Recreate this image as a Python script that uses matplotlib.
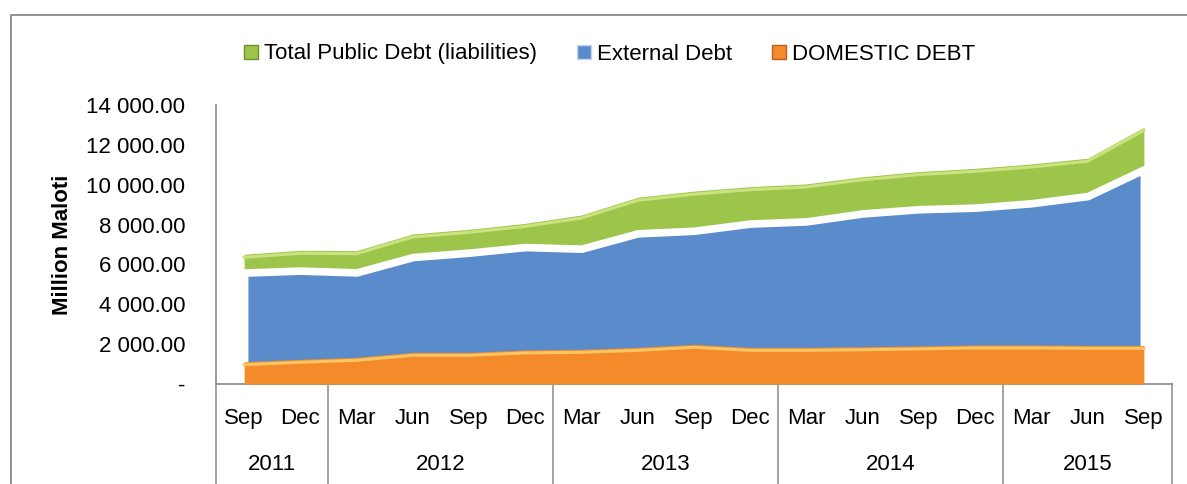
import numpy as np
import matplotlib.pyplot as plt
from matplotlib.patches import Patch, Rectangle
from matplotlib.transforms import blended_transform_factory, offset_copy

plt.rcParams['font.family'] = ['Liberation Sans', 'DejaVu Sans']

# quarters Sep 2011 .. Sep 2015
periods = ['Sep', 'Dec', 'Mar', 'Jun', 'Sep', 'Dec', 'Mar', 'Jun', 'Sep',
           'Dec', 'Mar', 'Jun', 'Sep', 'Dec', 'Mar', 'Jun', 'Sep']
years = ['2011', '2012', '2013', '2014', '2015']
year_counts = [2, 4, 4, 4, 3]

# million maloti
total = [6510, 6710, 6690, 7530, 7760, 8060, 8480, 9370, 9680,
         9900, 10040, 10400, 10660, 10820, 11040, 11330, 12880]
external = [5590, 5690, 5600, 6370, 6590, 6870, 6790, 7560, 7690,
            8050, 8160, 8560, 8770, 8850, 9070, 9430, 10770]
domestic = [1120, 1240, 1340, 1590, 1590, 1710, 1740, 1840, 1990,
            1840, 1840, 1870, 1910, 1960, 1960, 1940, 1940]

green, green_hi = '#9dc54c', '#c9e37f'
blue = '#5a8bca'
orange, orange_hi = '#f38b2b', '#fcc463'
grey = '#8a8a8a'

fig = plt.figure(figsize=(11.87, 4.84), dpi=100)
ax = fig.add_axes([216 / 1187, 100 / 484, 956 / 1187, 279 / 484])
x = np.arange(len(periods))
below = offset_copy(ax.transData, fig=fig, y=-3, units='dots')

ax.fill_between(x, total, color=green, lw=0, zorder=1)
ax.plot(x, total, color=green_hi, lw=2.2, transform=below, zorder=1.5)
ax.fill_between(x, external, facecolor=blue, edgecolor='white', lw=5.5, zorder=2)
ax.fill_between(x, domestic, color=orange, lw=0, zorder=3)
ax.plot(x, domestic, color=orange_hi, lw=2.2, transform=below, zorder=3.5)

ax.set_xlim(-0.5, len(periods) - 0.5)
ax.set_ylim(0, 14000)
ax.set_yticks(np.arange(0, 14001, 2000))
ax.yaxis.set_major_formatter(
    lambda v, p: '-' if v == 0 else f'{v:,.2f}'.replace(',', ' '))
ax.tick_params(axis='y', length=0, pad=22, labelsize=16)
ax.set_xticks(x, periods)
ax.tick_params(axis='x', length=0, pad=17, labelsize=16)
ax.set_ylabel('Million Maloti', fontsize=16, fontweight='bold', labelpad=10)

for s in ['top', 'right']:
    ax.spines[s].set_visible(False)
for s in ['left', 'bottom']:
    ax.spines[s].set_color(grey)
    ax.spines[s].set_linewidth(1.2)

# year row with separators
trans = blended_transform_factory(ax.transData, ax.transAxes)
bounds = np.concatenate([[0], np.cumsum(year_counts)]) - 0.5
for b in bounds:
    ax.plot([b, b], [0, -0.37], color=grey, lw=1.1, transform=trans, clip_on=False)
for y, lo, hi in zip(years, bounds[:-1], bounds[1:]):
    ax.text((lo + hi) / 2, -0.29, y, transform=trans, ha='center', va='center', fontsize=16)

handles = [Patch(facecolor=green, edgecolor='#6f8f2f'),
           Patch(facecolor=blue, edgecolor='#c9d6ea'),
           Patch(facecolor=orange, edgecolor='#b8621c')]
labels = ['Total Public Debt (liabilities)', 'External Debt', 'DOMESTIC DEBT']
fig.legend(handles, labels, loc='center', bbox_to_anchor=(610 / 1187, 1 - 54 / 484),
           ncol=3, frameon=False, fontsize=16, handlelength=0.6, handleheight=0.6,
           handletextpad=0.3, columnspacing=1.8)

fig.add_artist(Rectangle((11 / 1187, -0.1), 1.2, 0.1 + 1 - 15 / 484, transform=fig.transFigure,
                         fill=False, edgecolor=grey, lw=1.3))

fig.savefig('out.png', dpi=100)
